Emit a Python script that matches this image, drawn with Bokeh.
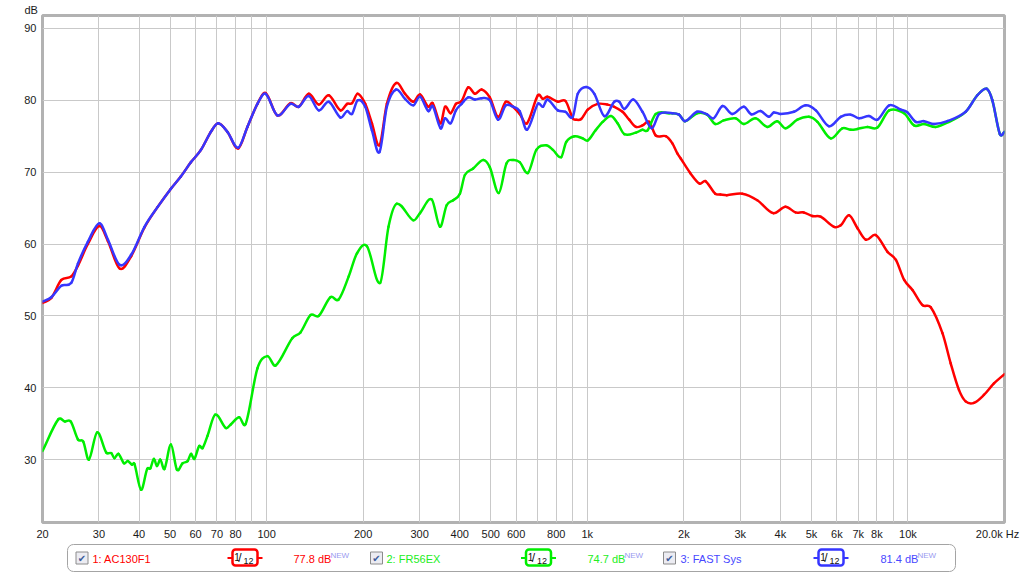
import math
from bokeh.plotting import figure
from bokeh.models import Range1d, FixedTicker
from bokeh.layouts import column
from bokeh.embed import file_html
from bokeh.resources import INLINE
from bokeh.core.properties import value

# ---------------- data ----------------
series_names = ["1: AC130F1", "2: FR56EX", "3: FAST Sys"]
series_levels = ["77.8 dB", "74.7 dB", "81.4 dB"]
smoothing = ["1/12", "1/12", "1/12"]
line_colors = ["#ff0000", "#00ee00", "#3636ff"]
text_colors = ["#ff0000", "#22ee22", "#4848ff"]

red_freq = [20, 21.3, 22.9, 24.6, 25.8, 27.7, 30.1, 32.0, 34.8, 37.8, 41.6, 45.8, 50.3, 54.0, 58.1,
            62.4, 67.0, 70.6, 75.5, 81.5, 87.1, 93.6, 99.3, 108.0, 118.7, 126.0, 135.3, 145.4, 156.2,
            169.9, 178.2, 184.7, 192.2, 203.0, 213.0, 224.9, 237.1, 253.3, 270.2, 286.8, 300.8, 319.3,
            329.5, 348.9, 359.9, 374.8, 389.3, 405.5, 425.1, 446.0, 467.9, 496.5, 526.9, 556.8, 586.6,
            615.4, 648.4, 701.3, 727.0, 750.3, 809.3, 855.1, 901.0, 923.1, 956.8, 1003, 1077, 1157,
            1214, 1288, 1351, 1418, 1486, 1559, 1635, 1757, 1842, 1909, 1956, 2093, 2240, 2335, 2507,
            2600, 2725, 3043, 3389, 3800, 4150, 4460, 4730, 5030, 5340, 5880, 6170, 6550, 6960, 7390,
            7940, 8640, 9170, 9730, 10330, 11100, 11780, 12810, 13590, 14420, 15130, 16060, 17250,
            18540, 20000]
red_db = [51.8, 52.5, 55.0, 55.5, 57.0, 60.0, 62.5, 60.4, 56.6, 58.3, 62.3, 65.2, 67.7, 69.4, 71.4,
          73.1, 75.6, 76.8, 75.6, 73.3, 76.3, 79.5, 81.0, 77.9, 79.6, 79.1, 80.9, 79.4, 80.7,
          78.6, 79.5, 79.6, 80.9, 79.5, 76.8, 73.75, 79.5, 82.4, 80.9, 79.8, 80.8, 79.1,
          79.6, 76.8, 79.1, 78.2, 79.5, 79.9, 81.8, 80.9, 81.5, 80.4, 77.7, 79.8, 79.1,
          78.1, 76.8, 80.7, 80.2, 80.5, 79.8, 79.9, 77.5, 77.3, 77.4, 78.7, 79.5, 79.4,
          79.1, 78.4, 77.3, 76.3, 76.5, 77.0, 75.1, 75.0, 74.0, 72.6, 71.9, 69.9, 68.4, 68.75, 67.0,
          66.9, 66.8, 67.0, 66.1, 64.3, 65.2, 64.4, 64.4, 63.9, 63.8, 62.4, 62.6, 64.0, 62.2, 60.6,
          61.25, 58.9, 57.8, 55.0, 53.6, 51.5, 51.2, 47.6, 43.4, 39.7, 38.1, 37.9, 39.0,
          40.6, 41.9]

green_freq = [20, 22.4, 23.5, 24.5, 25.8, 26.8, 27.9, 29.6, 31.6, 32.8, 33.5, 34.5, 35.9, 36.9, 38.0,
              38.7, 40.6, 42.4, 43.4, 44.5, 45.5, 46.6, 48.0, 50.3, 52.5, 54.7, 56.7, 58.1, 59.5,
              61.6, 63.1, 65.4, 69.1, 74.6, 77.3, 82.1, 86.1, 93.6, 100.5, 106.7, 120.2, 127.5,
              137.0, 145.4, 158.1, 167.8, 180.3, 191.3, 205.5, 226.0, 239.9, 254.6, 286.8, 300.8,
              327.2, 347.2, 364.2, 381.8, 400.6, 415.2, 440.6, 473.3, 496.5, 529.6, 559.6, 586.6,
              615.4, 653.0, 693.5, 744.9, 780.9, 829.3, 859.4, 912.1, 967.7, 1003, 1060, 1117, 1186,
              1243, 1304, 1418, 1486, 1540, 1635, 1799, 1932, 2017, 2200, 2363, 2507, 2660, 2900,
              3078, 3347, 3640, 3910, 4150, 4520, 4910, 5220, 5740, 6240, 6630, 6950, 7470, 8030,
              8740, 9720, 10450, 11220, 12200, 13420, 15130, 16460, 17590, 18330, 19350, 20000]
green_db = [31.2, 35.6, 35.3, 35.3, 32.8, 32.5, 30.0, 33.8, 31.0, 30.9, 30.2, 30.8, 29.5, 29.8, 29.3,
            29.4, 25.8, 28.7, 28.8, 30.1, 29.1, 30.0, 28.7, 32.1, 28.6, 29.5, 29.8, 30.8, 30.1,
            31.9, 31.6, 33.3, 36.25, 34.4, 34.9, 35.9, 35.0, 42.7, 44.4, 43.1, 46.9, 47.7,
            50.1, 50.0, 52.6, 52.3, 55.5, 58.7, 59.7, 54.6, 62.4, 65.6, 63.3, 64.3,
            66.2, 62.4, 65.4, 66.1, 67.0, 69.6, 70.5, 71.7, 70.7, 67.1, 71.2, 71.7,
            71.4, 69.9, 73.1, 73.75, 73.1, 72.1, 74.2, 75.0, 74.7, 74.4, 75.8, 77.0, 77.8,
            76.8, 75.3, 75.5, 75.9, 75.8, 78.1, 78.2, 78.0, 77.1, 78.2, 78.0, 76.7, 77.2, 77.5,
            76.7, 77.5, 76.3, 77.1, 76.1, 77.3, 77.7, 77.0, 74.7, 76.1, 75.9, 76.0, 76.3, 76.2,
            78.6, 78.2, 76.5, 76.7, 76.3, 77.0, 78.4, 80.7, 81.6, 80.0, 75.3, 75.6]

blue_freq = [20, 21.3, 22.9, 24.6, 25.8, 27.7, 30.1, 32.0, 34.8, 37.8, 41.6, 45.8, 50.3, 54.0, 58.1,
             62.4, 67.0, 70.6, 75.5, 81.5, 87.1, 93.6, 99.3, 108.0, 118.7, 126.0, 135.3, 145.4, 156.2,
             169.9, 178.2, 184.7, 192.2, 203.0, 213.0, 224.9, 237.1, 253.3, 270.2, 286.8, 300.8, 319.3,
             329.5, 348.9, 359.9, 374.8, 389.3, 405.5, 425.1, 446.0, 467.9, 496.5, 526.9, 556.8, 586.6,
             615.4, 648.4, 701.3, 727.0, 750.3, 809.3, 855.1, 901.0, 933.8, 991.6, 1052, 1130, 1214,
             1258, 1304, 1391, 1486, 1589, 1675, 1842, 1932, 2017, 2200, 2363, 2477, 2641, 2830,
             3078, 3245, 3470, 3680, 3816, 4004, 4410, 4800, 5160, 5670, 6170, 6630, 7040, 7560,
             8030, 8740, 9500, 9970, 10580, 11220, 12060, 13270, 15130, 16460, 17590, 18330, 19350,
             20000]
blue_db = [52.0, 52.6, 54.2, 54.6, 57.3, 60.3, 62.9, 60.6, 57.1, 58.5, 62.4, 65.2, 67.7, 69.4, 71.4,
           73.1, 75.6, 76.8, 75.6, 73.4, 76.3, 79.5, 80.9, 77.9, 79.5, 79.1, 80.6, 78.6, 79.8,
           77.6, 78.5, 78.1, 80.0, 79.1, 75.8, 72.8, 79.1, 81.5, 80.2, 79.3, 80.5, 78.5,
           79.2, 76.1, 77.5, 76.8, 78.6, 79.5, 80.4, 80.1, 80.3, 80.0, 77.3, 79.3, 79.1,
           78.5, 75.9, 79.5, 79.1, 80.1, 78.6, 78.4, 77.7, 80.9, 81.85, 80.9, 77.8, 79.8,
           79.8, 78.8, 80.1, 78.4, 76.1, 78.1, 78.2, 78.0, 77.1, 78.4, 78.05, 77.5, 79.2, 78.1,
           79.1, 78.05, 78.5, 77.7, 78.3, 78.1, 78.4, 79.3, 78.6, 76.4, 77.7, 78.0, 77.5, 77.8,
           77.3, 79.3, 78.7, 78.3, 77.0, 77.1, 76.7, 77.1, 78.4, 80.7, 81.6, 80.0, 75.3,
           75.6]

x_ticks = [20, 30, 40, 50, 60, 70, 80, 100, 200, 300, 400, 500, 600, 800, 1000,
           2000, 3000, 4000, 5000, 6000, 7000, 8000, 10000, 20000]
x_tick_labels = ["20", "30", "40", "50", "60", "70", "80", "100", "200", "300", "400", "500", "600",
                 "800", "1k", "2k", "3k", "4k", "5k", "6k", "7k", "8k", "10k",
                 "20.0k Hz\u00a0\u2009"]
x_minor_ticks = [90, 700, 900, 9000]
y_ticks = [30, 40, 50, 60, 70, 80, 90]
y_unit = "dB"

FONT = "Liberation Sans"
GRID = "#c9c9c9"
TXT = "#1a1a1a"


def bezier_pieces(freqs, dbs):
    """Smooth cubic pieces through the read points (in log-frequency space)."""
    u = [math.log10(f) for f in freqs]
    n = len(u)
    m = []
    for i in range(n):
        if i == 0:
            m.append((dbs[1] - dbs[0]) / (u[1] - u[0]))
        elif i == n - 1:
            m.append((dbs[-1] - dbs[-2]) / (u[-1] - u[-2]))
        else:
            m.append((dbs[i + 1] - dbs[i - 1]) / (u[i + 1] - u[i - 1]))
    d = dict(x0=[], y0=[], x1=[], y1=[], cx0=[], cy0=[], cx1=[], cy1=[])
    for i in range(n - 1):
        h = u[i + 1] - u[i]
        d["x0"].append(freqs[i]); d["y0"].append(dbs[i])
        d["x1"].append(freqs[i + 1]); d["y1"].append(dbs[i + 1])
        d["cx0"].append(10 ** (u[i] + h / 3)); d["cy0"].append(dbs[i] + m[i] * h / 3)
        d["cx1"].append(10 ** (u[i + 1] - h / 3)); d["cy1"].append(dbs[i + 1] - m[i + 1] * h / 3)
    return d


# ---------------- main chart ----------------
p = figure(width=1024, height=542, x_axis_type="log",
           x_range=Range1d(20, 20000), y_range=Range1d(21.25, 91.8),
           output_backend="svg", toolbar_location=None,
           min_border_left=42, min_border_right=20, min_border_top=15, min_border_bottom=19)
p.background_fill_color = "white"
p.border_fill_color = "white"
p.outline_line_color = "#b2b2b2"
p.outline_line_width = 3

p.title.text = y_unit
p.title.align = "left"
p.title.offset = -18
p.title.standoff = 0
p.title.text_font = FONT
p.title.text_font_size = "11px"
p.title.text_font_style = "normal"
p.title.text_color = TXT
p.title.text_line_height = 1.0

xt = FixedTicker(ticks=x_ticks, minor_ticks=x_minor_ticks)
p.xaxis.ticker = xt
p.xgrid.ticker = xt
p.xaxis.major_label_overrides = {t: l for t, l in zip(x_ticks, x_tick_labels)}
p.yaxis.ticker = FixedTicker(ticks=y_ticks)
p.ygrid.ticker = FixedTicker(ticks=y_ticks)

for ax in (p.xaxis, p.yaxis):
    ax.axis_line_color = None
    ax.major_tick_line_color = None
    ax.minor_tick_line_color = None
    ax.major_tick_in = 0
    ax.major_tick_out = 0
    ax.minor_tick_in = 0
    ax.minor_tick_out = 0
    ax.major_label_text_font = FONT
    ax.major_label_text_font_size = "11px"
    ax.major_label_text_color = TXT
p.xaxis.major_label_standoff = 5
p.yaxis.major_label_standoff = 6

p.xgrid.grid_line_color = GRID
p.xgrid.minor_grid_line_color = GRID
p.ygrid.grid_line_color = GRID

for fr, db, col in [(red_freq, red_db, line_colors[0]),
                    (green_freq, green_db, line_colors[1]),
                    (blue_freq, blue_db, line_colors[2])]:
    seg = bezier_pieces(fr, db)
    p.bezier(line_color=col, line_width=2.5, line_cap="round", **seg)

# ---------------- legend strip ----------------
# the column aligns this strip's frame with the chart frame (x 42..1004),
# so the x range is chosen to make one unit equal one pixel of the page
lg = figure(width=1024, height=30, x_range=Range1d(42, 1004), y_range=Range1d(0, 30),
            output_backend="svg", toolbar_location=None, min_border=0,
            x_axis_location=None, y_axis_location=None)
lg.grid.visible = False
lg.outline_line_color = None
lg.background_fill_color = "white"
lg.border_fill_color = "white"

lg.quad(left=[67], right=[955], bottom=[1], top=[28], border_radius=6,
        fill_color="white", line_color="#a4a4a4", line_width=1)

check_x = [81.5, 376, 669]
name_x = [92, 386, 680]
icon_x = [244.5, 538, 830.5]
level_x = [293, 587, 880]
new_x = [330, 624, 917]
cy = 14.5

for i in range(3):
    cx = check_x[i]
    lg.quad(left=[cx - 6], right=[cx + 6], bottom=[cy - 6], top=[cy + 6],
            fill_color="#ececf2", line_color="#8c8c8c", line_width=1)
    lg.text(x=[cx], y=[cy], text=["\u2714"], text_font=value("DejaVu Sans"),
            text_font_size="10px", text_color="#3c5c9c", text_align="center",
            text_baseline="middle")
    lg.text(x=[name_x[i]], y=[14], text=[series_names[i]], text_font=value(FONT),
            text_font_size="11px", text_color=text_colors[i], text_align="left",
            text_baseline="middle")
    ix = icon_x[i]
    lg.segment(x0=[ix - 17.5], x1=[ix + 17.5], y0=[cy], y1=[cy],
               line_color=line_colors[i], line_width=2)
    lg.quad(left=[ix - 12.5], right=[ix + 12.5], bottom=[7], top=[23], border_radius=3,
            fill_color="white", line_color=line_colors[i], line_width=2.5)
    num, den = smoothing[i].split("/")
    lg.text(x=[ix - 8], y=[16], text=[num], text_font=value(FONT), text_font_size="10px",
            text_color="#111111", text_align="center", text_baseline="middle")
    lg.text(x=[ix - 5], y=[14.5], text=["/"], text_font=value(FONT), text_font_size="12px",
            text_color="#111111", text_align="center", text_baseline="middle")
    lg.text(x=[ix + 3.5], y=[12], text=[den], text_font=value(FONT), text_font_size="9px",
            text_color="#111111", text_align="center", text_baseline="middle")
    lg.text(x=[level_x[i]], y=[14], text=[series_levels[i]], text_font=value(FONT),
            text_font_size="11px", text_color=text_colors[i], text_align="left",
            text_baseline="middle")
    lg.text(x=[new_x[i]], y=[17], text=["NEW"], text_font=value(FONT),
            text_font_size="8px", text_color="#9a9af0", text_align="left",
            text_baseline="middle")

layout = column(p, lg, spacing=0)
open("out.html", "w").write(file_html(layout, INLINE))
